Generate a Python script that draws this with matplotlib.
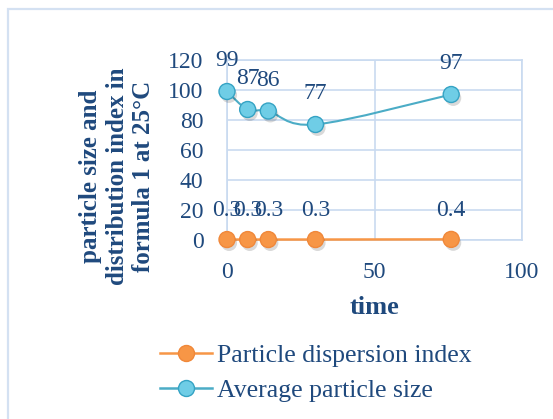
import matplotlib
matplotlib.use("Agg")
import matplotlib.pyplot as plt
import matplotlib.patheffects as pe
from matplotlib.path import Path
from matplotlib.patches import PathPatch, Rectangle
from matplotlib.lines import Line2D

time = [0, 7, 14, 30, 76]
dispersion_index = [0.3, 0.3, 0.3, 0.3, 0.4]
avg_size = [99, 87, 86, 77, 97]
disp_labels = ["0.3", "0.3", "0.3", "0.3", "0.4"]
size_labels = ["99", "87", "86", "77", "97"]
x_ticks = [0, 50, 100]
y_ticks = [0, 20, 40, 60, 80, 100, 120]

TEXT = "#1F497D"
ORANGE = "#F79646"
ORANGE_EDGE = "#F0883A"
BLUE = "#4BACC6"
BLUE_FILL = "#6FCDE6"
BLUE_EDGE = "#35A3C4"
GRID = "#C9DAF0"

plt.rcParams["font.family"] = ["Liberation Serif", "DejaVu Serif"]

fig = plt.figure(figsize=(5.53, 4.19), dpi=100)
fig.patches.append(Rectangle((8 / 553, -0.1), 1.2, 1 - 9 / 419 + 0.1,
                             transform=fig.transFigure, fill=False,
                             edgecolor="#D4E1F2", linewidth=1.6))

ax = fig.add_axes([227 / 553, 1 - 240 / 419, 295 / 553, 180 / 419])
ax.set_xlim(0, 100)
ax.set_ylim(0, 120)
ax.set_xticks(x_ticks)
ax.set_yticks(y_ticks)
ax.grid(True, color=GRID, linewidth=1.2)
ax.set_axisbelow(True)
for s in ax.spines.values():
    s.set_color(GRID)
    s.set_linewidth(1.2)
ax.tick_params(length=0, labelsize=17, labelcolor=TEXT)
ax.tick_params(axis="y", pad=17)
ax.tick_params(axis="x", pad=16)


def smooth_path(xs, ys):
    # Catmull-Rom segments written as cubic Bezier curves
    pts = list(zip(xs, ys))
    verts = [pts[0]]
    codes = [Path.MOVETO]
    n = len(pts)
    for i in range(n - 1):
        p0 = pts[i - 1] if i > 0 else pts[i]
        p1 = pts[i]
        p2 = pts[i + 1]
        p3 = pts[i + 2] if i + 2 < n else pts[i + 1]
        c1 = (p1[0] + (p2[0] - p0[0]) / 6, p1[1] + (p2[1] - p0[1]) / 6)
        c2 = (p2[0] - (p3[0] - p1[0]) / 6, p2[1] - (p3[1] - p1[1]) / 6)
        verts += [c1, c2, p2]
        codes += [Path.CURVE4] * 3
    return Path(verts, codes)


shadow = [pe.SimplePatchShadow(offset=(1.5, -2.5), shadow_rgbFace="k",
                               alpha=0.15), pe.Normal()]

# average particle size: smoothed line plus markers
ax.add_patch(PathPatch(smooth_path(time, avg_size), fill=False,
                       edgecolor=BLUE, linewidth=1.5, clip_on=False, zorder=3))
ax.plot(time, avg_size, linestyle="none", marker="o", markersize=11.5,
        markerfacecolor=BLUE_FILL, markeredgecolor=BLUE_EDGE,
        markeredgewidth=1, clip_on=False, zorder=4, path_effects=shadow)

# dispersion index
ax.plot(time, dispersion_index, color=ORANGE, linewidth=1.8, clip_on=False,
        zorder=3)
ax.plot(time, dispersion_index, linestyle="none", marker="o", markersize=11.5,
        markerfacecolor=ORANGE, markeredgecolor=ORANGE_EDGE,
        markeredgewidth=1, clip_on=False, zorder=4, path_effects=shadow)

for x, y, t in zip(time, avg_size, size_labels):
    ax.annotate(t, (x, y), xytext=(0, 22), textcoords="offset points",
                ha="center", va="center", fontsize=17, color=TEXT,
                annotation_clip=False)
for x, y, t in zip(time, dispersion_index, disp_labels):
    ax.annotate(t, (x, y), xytext=(0, 21), textcoords="offset points",
                ha="center", va="center", fontsize=17, color=TEXT,
                annotation_clip=False)

fig.text(117 / 553, 1 - 176 / 419,
         "particle size and\ndistribution index in\nformula 1 at 25°C",
         rotation=90, ha="center", va="center", multialignment="center",
         fontsize=18, fontweight="bold", color=TEXT, linespacing=1.2)
fig.text(375 / 553, 1 - 307 / 419, "time", ha="center", va="center",
         fontsize=19, fontweight="bold", color=TEXT)

handles = [
    Line2D([], [], color=ORANGE, linewidth=1.8, marker="o", markersize=11.5,
           markerfacecolor=ORANGE, markeredgecolor=ORANGE_EDGE),
    Line2D([], [], color=BLUE, linewidth=1.8, marker="o", markersize=11.5,
           markerfacecolor=BLUE_FILL, markeredgecolor=BLUE_EDGE),
]
leg = fig.legend(handles, ["Particle dispersion index", "Average particle size"],
                 loc="upper left", bbox_to_anchor=(150 / 553, 1 - 334 / 419),
                 frameon=False, fontsize=18.5, handlelength=2.0,
                 handletextpad=0.2, labelspacing=0.45, borderaxespad=0)
for t in leg.get_texts():
    t.set_color(TEXT)

fig.savefig("out.png", dpi=100)
